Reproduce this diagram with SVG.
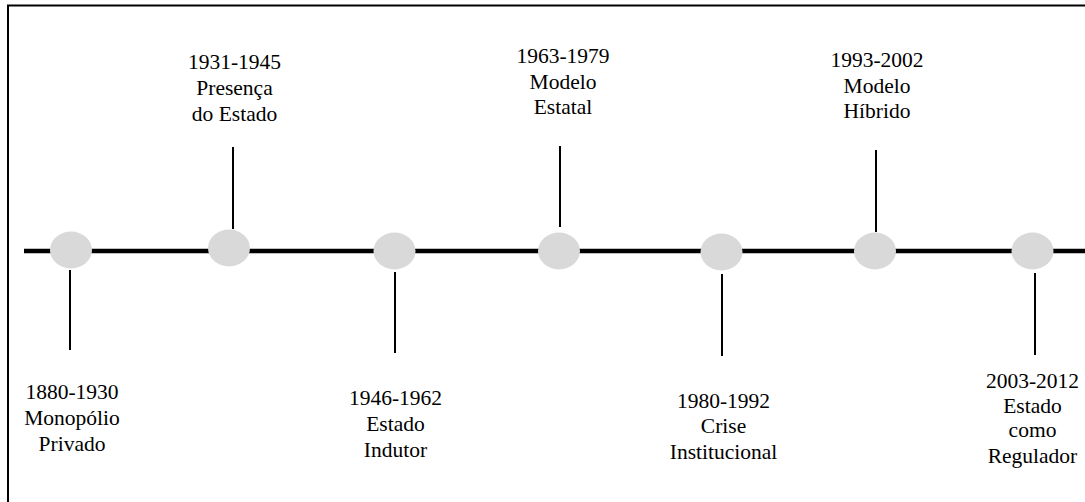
<svg xmlns="http://www.w3.org/2000/svg" width="1085" height="502" viewBox="0 0 1085 502">
<style>
.lbl{font-family:'Liberation Serif','Times New Roman','DejaVu Serif',serif;font-size:21.5px;fill:#000;text-anchor:middle}
.dot{fill:#d9d9d9}
.tick{stroke:#000;stroke-width:2;fill:none}
</style>
<rect width="1085" height="502" fill="#fff"/>
<path d="M8 512 V5.5 H1095" stroke="#000" stroke-width="2" fill="none"/>
<g id="connectors">
<line x1="24" y1="251" x2="1085" y2="251" stroke="#000" stroke-width="4.5"/>
<line class="tick" x1="70" y1="270" x2="70" y2="350"/>
<line class="tick" x1="233" y1="147" x2="233" y2="229"/>
<line class="tick" x1="395" y1="272" x2="395" y2="353"/>
<line class="tick" x1="560" y1="146" x2="560" y2="227"/>
<line class="tick" x1="722" y1="274" x2="722" y2="356"/>
<line class="tick" x1="876" y1="150" x2="876" y2="232"/>
<line class="tick" x1="1035" y1="273" x2="1035" y2="355"/>
</g>
<g id="n1880">
<ellipse class="dot" cx="71" cy="250" rx="21" ry="18.5"/>
<text class="lbl" x="72" y="399">1880-1930</text>
<text class="lbl" x="72" y="425">Monopólio</text>
<text class="lbl" x="72" y="451">Privado</text>
</g>
<g id="n1931">
<ellipse class="dot" cx="229" cy="248" rx="21" ry="18.5"/>
<text class="lbl" x="234.5" y="69">1931-1945</text>
<text class="lbl" x="234.5" y="95">Presença</text>
<text class="lbl" x="234.5" y="121">do Estado</text>
</g>
<g id="n1946">
<ellipse class="dot" cx="394.5" cy="251" rx="21" ry="18.5"/>
<text class="lbl" x="395.5" y="405">1946-1962</text>
<text class="lbl" x="395.5" y="431">Estado</text>
<text class="lbl" x="395.5" y="457">Indutor</text>
</g>
<g id="n1963">
<ellipse class="dot" cx="559" cy="251" rx="21" ry="18.5"/>
<text class="lbl" x="563" y="63">1963-1979</text>
<text class="lbl" x="563" y="88.5">Modelo</text>
<text class="lbl" x="563" y="114">Estatal</text>
</g>
<g id="n1980">
<ellipse class="dot" cx="721.5" cy="252" rx="21" ry="18.5"/>
<text class="lbl" x="723.5" y="407.5">1980-1992</text>
<text class="lbl" x="723.5" y="433">Crise</text>
<text class="lbl" x="723.5" y="458.5">Institucional</text>
</g>
<g id="n1993">
<ellipse class="dot" cx="875" cy="251" rx="21" ry="18.5"/>
<text class="lbl" x="877" y="66.5">1993-2002</text>
<text class="lbl" x="877" y="92.5">Modelo</text>
<text class="lbl" x="877" y="118">Híbrido</text>
</g>
<g id="n2003">
<ellipse class="dot" cx="1032.5" cy="251" rx="21" ry="18.5"/>
<text class="lbl" x="1032.5" y="388">2003-2012</text>
<text class="lbl" x="1032.5" y="413">Estado</text>
<text class="lbl" x="1032.5" y="437">como</text>
<text class="lbl" x="1032.5" y="463">Regulador</text>
</g>
</svg>
